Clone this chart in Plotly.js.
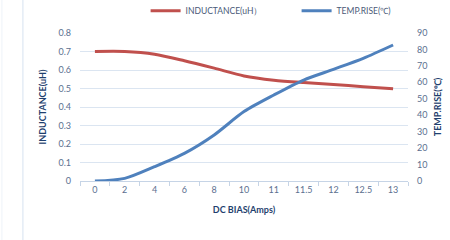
<!DOCTYPE html>
<html><head><meta charset="utf-8">
<script src="https://cdn.plot.ly/plotly-3.0.1.min.js"></script>
<style>html,body{margin:0;padding:0;background:#fff}#c{width:450px;height:240px}</style>
</head><body><div id="c"></div>
<script>
const dcBias = ['0','2','4','6','8','10','11','11.5','12','12.5','13'];
const inductance = [0.70, 0.70, 0.685, 0.65, 0.61, 0.568, 0.545, 0.532, 0.522, 0.51, 0.498];
const tempRise = [0, 1.6, 8.7, 16.8, 28, 42.2, 52.3, 61.4, 67.9, 74.6, 82.7];
const leftTicks = [0, 0.1, 0.2, 0.3, 0.4, 0.5, 0.6, 0.7, 0.8];
const rightTicks = [0, 10, 20, 30, 40, 50, 60, 70, 80, 90];

const tickColor = '#5b6f8f';
const titleColor = '#1f3f6e';
const fontFam = 'Lato, "Open Sans", sans-serif';

const data = [
  {x: dcBias, y: inductance, name: 'INDUCTANCE(uH）', type: 'scatter', mode: 'lines',
   line: {color: '#c0504d', width: 3, shape: 'spline', smoothing: 0.8}, yaxis: 'y'},
  {x: dcBias, y: tempRise, name: 'TEMP.RISE(℃)', type: 'scatter', mode: 'lines',
   line: {color: '#4f81bd', width: 3, shape: 'spline', smoothing: 0.8}, yaxis: 'y2'}
];

const layout = {
  width: 450, height: 240,
  margin: {l: 80, r: 42, t: 33, b: 59},
  paper_bgcolor: '#fff', plot_bgcolor: '#fff',
  font: {family: fontFam, size: 9, color: tickColor},
  showlegend: true,
  legend: {orientation: 'h', x: 0.2, xanchor: 'left', y: 0.955, yanchor: 'middle',
           yref: 'container', font: {size: 8.5, color: '#4a5a78'}, itemwidth: 30,
           entrywidth: 106, tracegroupgap: 0},
  xaxis: {type: 'category', tickvals: dcBias, ticktext: dcBias, range: [-0.5, 10.5],
          showgrid: false, showline: true, linecolor: '#c6d4e6', linewidth: 1,
          ticks: 'outside', tickson: 'boundaries', ticklen: 4, tickcolor: '#c6d4e6',
          tickfont: {size: 9, color: tickColor}, zeroline: false,
          title: {text: 'DC BIAS(Amps)', font: {size: 9, color: titleColor, weight: 'bold'}, standoff: 12}},
  yaxis: {range: [0, 0.8], tickvals: leftTicks, ticktext: leftTicks.map(v => v === 0 ? '0' : String(v)),
          showgrid: true, gridcolor: '#dbe5f1', gridwidth: 1, zeroline: false, showline: false,
          ticks: '', ticklabelstandoff: 8, tickfont: {size: 9, color: tickColor},
          title: {text: 'INDUCTANCE(uH)', font: {size: 9, color: titleColor, weight: 'bold'}, standoff: 10}},
  yaxis2: {range: [0, 90], tickvals: rightTicks, overlaying: 'y', side: 'right',
           showgrid: false, zeroline: false, showline: false, ticks: '', ticklabelstandoff: 8,
           tickfont: {size: 9, color: tickColor},
           title: {text: 'TEMP.RISE(℃)', font: {size: 9, color: titleColor, weight: 'bold'}, standoff: 8}},
  shapes: [
    {type: 'line', xref: 'paper', yref: 'paper', x0: -0.174, x1: -0.174, y0: -0.4, y1: 1.25,
     line: {color: '#d6e2f0', width: 1}},
    {type: 'line', xref: 'paper', yref: 'paper', x0: -0.238, x1: -0.238, y0: -0.4, y1: 1.25,
     line: {color: '#eef3f9', width: 1}}
  ]
};

Plotly.newPlot('c', data, layout, {displayModeBar: false, staticPlot: true});
</script></body></html>
